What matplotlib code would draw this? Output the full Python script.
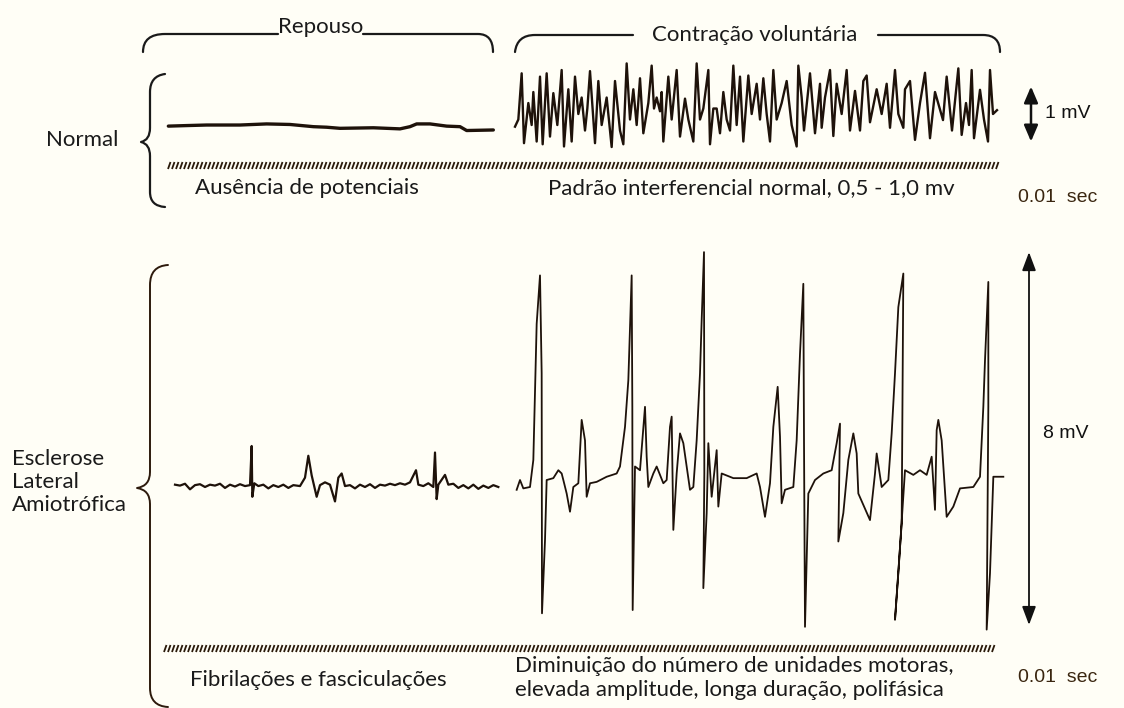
import numpy as np
import matplotlib.pyplot as plt
from matplotlib.path import Path
from matplotlib.patches import PathPatch
from matplotlib.collections import LineCollection

plt.rcParams['font.family'] = ['Lato', 'DejaVu Sans']

W, H = 1124, 708
BG = '#fffef6'
INK = '#1e120a'

# EMG traces: time (arbitrary ms units) and potential (mV)
normal_rest_t = [8.5, 14, 20, 30, 38, 45, 52, 56, 60, 70, 78, 81, 83, 87, 92, 96, 98, 106]
normal_rest_mv = [-0.22, -0.21, -0.2, -0.2, -0.18, -0.19, -0.23, -0.24, -0.26, -0.25,
                  -0.27, -0.23, -0.18, -0.18, -0.22, -0.23, -0.3, -0.29]

normal_vol_t = [4.5, 5.5, 6.5, 7.2, 8.5, 9.5, 10.0, 11.0, 12.0, 12.8, 14.0, 15.0, 16.0, 17.2,
                18.5, 19.2, 20.5, 21.5, 22.5, 23.5, 24.5, 25.5, 26.2, 27.0, 28.5, 29.5, 30.5,
                32.0, 33.5, 34.5, 36.0, 37.0, 38.0, 39.0, 40.0, 41.0, 42.0, 43.0, 44.5, 45.5,
                46.2, 47.0, 48.0, 48.5, 49.0, 50.5, 51.5, 53.0, 54.0, 55.5, 56.5, 58.0, 59.0,
                60.0, 61.0, 62.5, 63.0, 64.0, 65.0, 66.0, 67.0, 68.0, 69.0, 70.0, 71.0, 72.0,
                73.0, 74.5, 75.5, 77.0, 78.0, 79.0, 80.0, 81.0, 82.0, 83.0, 84.5, 86.0, 87.5,
                89.0, 89.5, 90.5, 91.2, 93.0, 94.5, 96.0, 96.5, 97.5, 99.0, 100.0, 101.0,
                102.5, 104.0, 105.0, 106.5, 108.0, 109.0, 110.0, 111.0, 113.0, 114.5, 116.0,
                117.0, 118.5, 119.5, 121.0, 121.5, 123.0, 124.5, 126.0, 127.5, 129.0, 130.5,
                132.9, 134.0, 135.6, 137.5, 138.5, 139.8, 140.7, 141.5, 142.2, 144.0, 145.2,
                146.4, 147.0, 147.9, 149.1]
normal_vol_mv = [-0.23, -0.1, 0.74, -0.53, 0.2, -0.2, 0.4, -0.5, 0.68, -0.55, 0.74, -0.41,
                 0.38, -0.2, 0.8, -0.59, 0.45, -0.5, 0.68, 0.0, 0.3, -0.3, 0.1, 0.78, -0.53,
                 0.6, -0.2, 0.3, -0.6, 0.6, -0.3, -0.55, 0.92, -0.1, 0.45, -0.2, 0.65, -0.35,
                 0.2, 0.88, 0.1, 0.3, 0.05, 0.4, -0.5, 0.68, -0.1, 0.8, -0.41, 0.28, -0.1,
                 -0.5, 0.92, -0.1, 0.1, 0.8, -0.55, 0.1, 0.1, -0.35, 0.4, -0.1, -0.3, 0.88,
                 -0.2, 0.68, -0.5, 0.7, 0.0, 0.55, -0.1, 0.65, 0.0, -0.5, 0.8, -0.1, 0.2, 0.6,
                 -0.2, -0.59, 0.88, 0.3, -0.3, 0.74, -0.35, 0.55, -0.25, 0.3, 0.8, -0.4, 0.55,
                 0.0, 0.8, -0.3, 0.42, -0.3, 0.6, 0.7, -0.15, 0.45, 0.0, 0.55, -0.25, 0.8, 0.0,
                 -0.25, 0.45, 0.6, -0.47, 0.2, 0.75, -0.44, 0.4, -0.11, 0.68, -0.3, 0.83,
                 -0.38, 0.2, -0.2, 0.8, -0.44, 0.44, -0.1, -0.5, 0.8, 0.0, 0.07]

als_rest_t = [4.5, 6, 7.5, 9, 10.5, 12, 13.5, 15, 16.5, 18, 19.5, 21, 22.5, 24, 25.5, 27, 27.5,
              27.7, 28.3, 29.5, 31, 32.5, 34, 35.5, 37, 38.5, 40, 42, 43.5, 44.5, 45.5, 47, 48,
              49.5, 51, 52.5, 53.5, 54.5, 55.5, 57, 58.5, 60, 61.5, 63, 64.5, 66, 67.5, 69,
              70.5, 72, 73.5, 75, 76.8, 77.5, 79, 80.5, 82, 82.5, 83, 83.5, 85.5, 86.5, 88,
              89.5, 91, 92.5, 94, 95.5, 97, 98.5, 100, 101.5]
als_rest_mv = [0.05, 0.03, 0.07, -0.05, 0.04, 0.06, 0.0, 0.05, 0.03, 0.07, -0.02, 0.05, 0.01,
               0.06, 0.02, 0.04, 0.88, -0.21, 0.08, 0.02, 0.05, -0.03, 0.04, 0.0, 0.05, -0.02,
               0.04, 0.02, 0.2, 0.67, 0.25, -0.21, 0.04, 0.1, 0.05, -0.31, 0.2, 0.29, 0.02,
               0.04, -0.03, 0.05, 0.0, 0.06, -0.02, 0.05, 0.03, 0.07, 0.04, 0.08, 0.05, 0.1,
               0.36, 0.05, 0.02, 0.08, 0.0, 0.74, -0.26, 0.05, 0.26, 0.05, 0.07, -0.02, 0.04,
               -0.03, 0.05, -0.04, 0.03, -0.02, 0.04, 0.0]

als_vol_t = [5.0, 6.0, 7.0, 9.0, 10.0, 11.0, 12.0, 12.5, 12.6, 13.5, 14.0, 16.0, 17.5, 18.5,
             19.0, 20.0, 21.0, 22.0, 23.5, 24.5, 25.5, 26.0, 27.0, 29.0, 32.0, 35.0, 36.0,
             37.5, 38.5, 39.5, 39.7, 39.8, 40.5, 42.0, 43.5, 44.0, 44.5, 46.0, 47.0, 49.0,
             50.0, 51.0, 51.5, 52.0, 53.0, 54.0, 55.0, 56.0, 57.0, 58.0, 59.0, 60.0, 60.5,
             61.2, 61.3, 61.0, 62.0, 62.5, 63.5, 65.0, 65.5, 66.5, 70.0, 74.0, 77.0, 78.0,
             79.5, 81.0, 82.0, 83.3, 84.0, 84.5, 85.5, 88.0, 89.0, 90.0, 91.0, 91.2, 91.5,
             92.5, 94.5, 97.0, 99.5, 101.0, 102.0, 101.5, 103.0, 104.5, 106.0, 107.0, 107.5,
             111.0, 112.5, 113.0, 114.5, 116.5, 117.5, 118.5, 119.5, 121.0, 120.5, 118.5,
             119.5, 121.5, 124.0, 126.0, 128.0, 129.5, 130.5, 131.0, 131.5, 132.5, 134.0,
             136.0, 138.0, 142.0, 144.0, 145.0, 145.5, 146.5, 146.5, 146.0, 147.0, 148.0, 151.0]
als_vol_mv = [-0.06, 0.15, -0.03, 0.0, 0.58, 3.5, 4.54, 2.44, -2.71, -1.14, 0.15, 0.19, 0.36,
              0.29, 0.15, -0.14, -0.53, 0.0, 0.08, 1.44, 1.0, -0.21, 0.08, 0.11, 0.22, 0.29,
              0.44, 1.29, 2.29, 4.54, 1.72, -2.64, 0.44, 0.36, 1.72, 0.65, 0.0, 0.29, 0.44,
              0.08, 0.15, 1.29, 1.51, -0.92, 0.29, 1.15, 0.94, 0.44, -0.06, 0.0, 1.0, 2.44,
              3.58, 5.04, 0.29, -2.17, -0.56, 0.94, -0.21, 0.79, -0.42, 0.29, 0.19, 0.19, 0.29,
              0.0, -0.64, 0.08, 1.29, 2.15, 1.08, -0.35, -0.06, 0.0, 1.0, 2.86, 4.36, 1.0,
              -3.0, -0.14, 0.15, 0.29, 0.36, 0.94, 1.36, -1.17, -0.56, 0.58, 1.15, 0.72, -0.14,
              -0.71, 0.29, 0.72, 0.0, 0.15, 1.15, 2.44, 3.86, 4.58, -0.78, -2.85, -1.85, 0.36,
              0.26, 0.36, 0.26, 0.65, -0.49, 1.22, 1.44, 1.0, -0.64, -0.42, -0.03, 0.0, 0.22,
              1.72, 2.72, 4.4, 1.72, -3.06, -1.85, 0.22, 0.22]

fig = plt.figure(figsize=(W / 100, H / 100), dpi=100)
fig.patch.set_facecolor(BG)

deco = fig.add_axes([0, 0, 1, 1])
deco.set_xlim(0, W)
deco.set_ylim(H, 0)
deco.axis('off')


def trace_axes(left, top, right, bottom, xlim, ylim):
    ax = fig.add_axes([left / W, 1 - bottom / H, (right - left) / W, (bottom - top) / H])
    ax.set_xlim(*xlim)
    ax.set_ylim(*ylim)
    ax.axis('off')
    ax.patch.set_alpha(0)
    return ax


def curve(points, codes, color='#1a1a1a', lw=1.6):
    deco.add_patch(PathPatch(Path(points, codes), fc='none', ec=color, lw=lw,
                             capstyle='round', joinstyle='round'))


M, L, C = Path.MOVETO, Path.LINETO, Path.CURVE3

# top brackets
curve([(143, 52), (143, 34), (165, 34), (278, 34)], [M, C, C, L])
curve([(363, 34), (478, 34), (493, 34), (493, 52)], [M, L, C, C])
curve([(515, 52), (517, 35), (535, 35), (633, 35)], [M, C, C, L])
curve([(878, 35), (983, 35), (1000, 35), (1000, 52)], [M, L, C, C])

# curly braces
curve([(165, 74), (150, 76), (150, 92), (150, 128), (150, 140), (141, 142),
       (150, 144), (150, 156), (150, 192), (150, 206), (165, 207)],
      [M, C, C, L, C, C, C, C, L, C, C])
curve([(168, 265), (150, 266), (150, 285), (150, 472), (150, 486), (137, 488),
       (150, 490), (150, 504), (150, 688), (150, 706), (168, 707)],
      [M, C, C, L, C, C, C, C, L, C, C], color='#2d1a0c', lw=1.4)


# time-marker hatch lines
def hatch(x0, x1, y0, y1):
    xs = np.arange(x0, x1, 4.0)
    segs = [[(x, y1), (x + 2.5, y0)] for x in xs]
    deco.add_collection(LineCollection(segs, colors='#2a1a0a', linewidths=1.3))


hatch(168, 997, 162, 169)
hatch(164, 993, 645, 652)

# traces
ax_nr = trace_axes(140, 55, 500, 155, (0, 108), (-0.745, 1.073))
ax_nr.plot(normal_rest_t, normal_rest_mv, color=INK, lw=2.4, solid_capstyle='round')

ax_nv = trace_axes(500, 55, 1060, 155, (0, 168), (-0.745, 1.073))
ax_nv.plot(normal_vol_t, normal_vol_mv, color=INK, lw=1.7, solid_joinstyle='round')

ax_ar = trace_axes(160, 240, 500, 640, (0, 102), (-3.283, 5.300))
ax_ar.plot(als_rest_t, als_rest_mv, color=INK, lw=1.6, solid_joinstyle='round')

ax_av = trace_axes(500, 240, 1060, 640, (0, 168), (-3.283, 5.300))
ax_av.plot(als_vol_t, als_vol_mv, color=INK, lw=1.3, solid_joinstyle='round')

# calibration arrows
ax_nv.annotate('', xy=(159.3, 0.5), xytext=(159.3, -0.5), annotation_clip=False,
               arrowprops=dict(arrowstyle='<|-|>,head_length=0.7,head_width=0.3',
                               mutation_scale=14, color='#111', lw=1.8,
                               shrinkA=0, shrinkB=0))
ax_av.annotate('', xy=(158.7, 5.04), xytext=(158.7, -2.96), annotation_clip=False,
               arrowprops=dict(arrowstyle='<|-|>,head_length=0.8,head_width=0.3',
                               mutation_scale=14, color='#111', lw=1.3,
                               shrinkA=0, shrinkB=0))

# texts
txt = dict(color='#1a1a1a', fontsize=16)
deco.text(321, 33, 'Repouso', ha='center', va='baseline', **txt)
deco.text(755, 35, 'Contração voluntária', ha='center', va='center', **txt)
deco.text(118, 140, 'Normal', ha='right', va='center', **txt)
deco.text(195, 188, 'Ausência de potenciais', ha='left', va='center', **txt)
deco.text(548, 188, 'Padrão interferencial normal, 0,5 - 1,0 mv', ha='left', va='center', **txt)
deco.text(12, 482, 'Esclerose\nLateral\nAmiotrófica', ha='left', va='center',
          linespacing=1.2, **txt)
deco.text(190, 680, 'Fibrilações e fasciculações', ha='left', va='center', **txt)
deco.text(515, 678, 'Diminuição do número de unidades motoras,\nelevada amplitude, longa duração, polifásica',
          ha='left', va='center', linespacing=1.2, **txt)

arial = dict(family=['Liberation Sans', 'DejaVu Sans'], fontsize=14)
deco.text(1045, 113, '1 mV', ha='left', va='center', color='#111', **arial)
deco.text(1043, 433, '8 mV', ha='left', va='center', color='#111', **arial)
deco.text(1018, 198, '0.01  sec', ha='left', va='center', color='#3a2610', **arial)
deco.text(1018, 677, '0.01  sec', ha='left', va='center', color='#3a2610', **arial)

fig.savefig('out.png', dpi=100, facecolor=BG)
